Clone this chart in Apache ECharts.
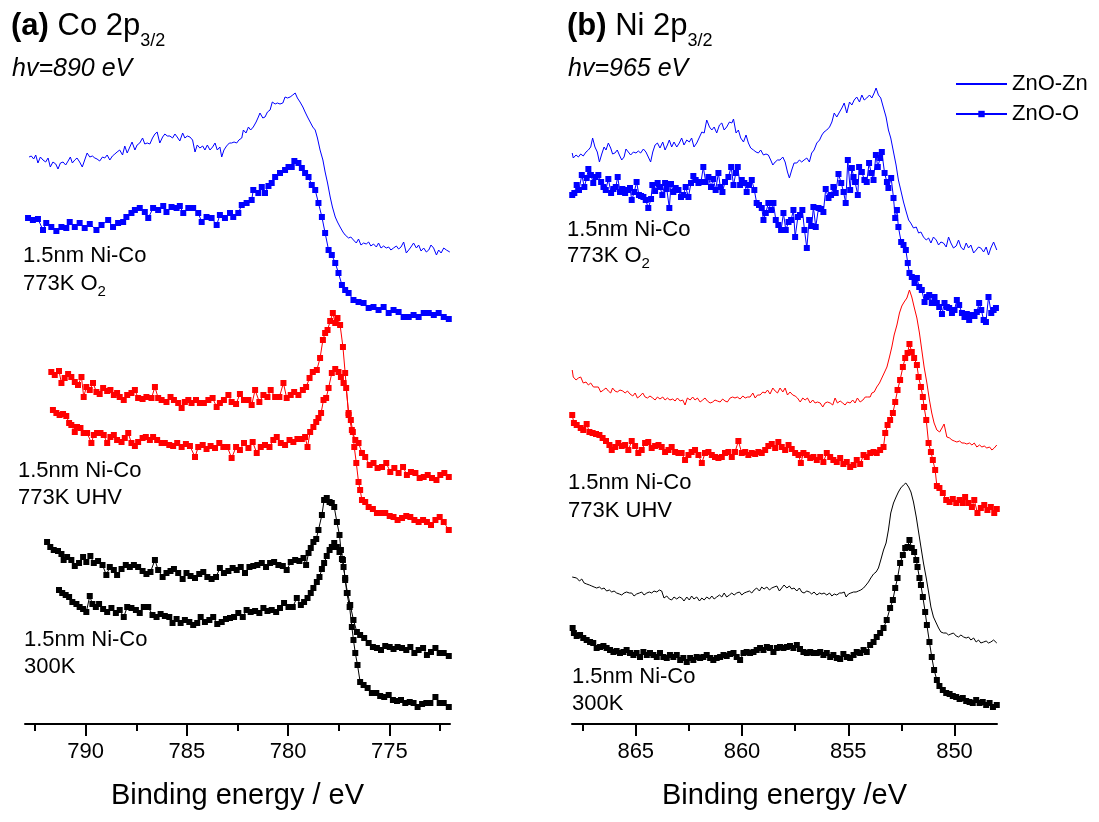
<!DOCTYPE html>
<html>
<head>
<meta charset="utf-8">
<script src="https://cdn.jsdelivr.net/npm/echarts@6/dist/echarts.min.js"></script>
<style>html,body{margin:0;padding:0;background:#fff}#c{width:1099px;height:822px}</style>
</head>
<body>
<div id="c"></div>
<script>
// ---- Data: [binding energy (eV), intensity (a.u., offset for display)] ----
// Panel (a) Co 2p3/2, hv = 890 eV
const coO2_ZnOZn = [[792.80,56.7],[792.69,56.8],[792.57,56.5],[792.47,56.9],[792.36,56.1],[792.24,56.7],[792.11,56.4],[791.98,56.2],[791.86,56.6],[791.75,55.7],[791.62,56.2],[791.48,56.0],[791.37,55.5],[791.25,56.1],[791.12,56.2],[790.99,55.9],[790.87,56.3],[790.76,56.7],[790.66,56.1],[790.54,56.4],[790.43,56.6],[790.30,56.2],[790.17,55.7],[790.05,56.4],[789.93,57.1],[789.80,56.7],[789.67,56.8],[789.55,56.6],[789.44,56.5],[789.31,56.3],[789.17,56.7],[789.06,56.6],[788.94,56.9],[788.81,56.4],[788.68,56.8],[788.56,57.0],[788.45,57.2],[788.32,57.4],[788.18,56.9],[788.07,57.8],[787.95,57.1],[787.82,57.7],[787.71,58.2],[787.57,57.4],[787.46,57.9],[787.33,58.1],[787.19,58.6],[787.08,58.0],[786.96,58.1],[786.83,58.0],[786.70,58.6],[786.58,59.0],[786.47,59.2],[786.34,58.1],[786.20,58.7],[786.09,59.0],[785.97,58.8],[785.84,58.8],[785.71,58.6],[785.59,59.0],[785.48,58.7],[785.35,58.3],[785.21,59.1],[785.10,58.6],[784.98,58.8],[784.85,58.7],[784.72,58.4],[784.60,57.2],[784.49,57.9],[784.36,57.6],[784.22,57.8],[784.11,57.4],[783.99,57.9],[783.86,57.4],[783.73,57.7],[783.61,58.1],[783.50,57.4],[783.37,57.7],[783.28,56.7],[783.17,57.4],[783.04,57.8],[782.90,58.1],[782.79,58.1],[782.67,58.2],[782.54,58.1],[782.43,58.4],[782.29,58.6],[782.21,59.4],[782.08,59.1],[781.96,59.7],[781.85,59.4],[781.72,59.7],[781.58,60.2],[781.47,60.7],[781.39,61.1],[781.25,60.6],[781.14,60.7],[781.02,61.2],[780.89,61.4],[780.78,62.2],[780.64,62.0],[780.53,62.1],[780.40,62.0],[780.26,62.1],[780.15,62.7],[780.03,62.6],[779.90,62.7],[779.77,62.9],[779.65,63.1],[779.54,62.6],[779.41,62.2],[779.27,61.7],[779.16,61.2],[779.04,60.7],[778.91,60.2],[778.78,59.7],[778.66,59.4],[778.55,58.6],[778.42,57.4],[778.28,56.4],[778.17,55.2],[778.05,54.1],[777.92,52.7],[777.81,51.7],[777.67,50.7],[777.56,50.2],[777.43,49.7],[777.29,49.2],[777.18,48.9],[777.01,48.6],[776.90,48.7],[776.77,48.4],[776.63,48.1],[776.52,48.5],[776.40,47.9],[776.27,48.1],[776.14,48.0],[776.02,48.2],[775.91,47.8],[775.78,48.0],[775.64,47.7],[775.53,48.1],[775.41,47.6],[775.28,47.8],[775.15,47.6],[775.03,47.7],[774.92,47.4],[774.79,47.6],[774.65,47.8],[774.54,47.5],[774.42,47.7],[774.29,48.2],[774.16,47.1],[774.04,47.4],[773.93,47.7],[773.80,48.1],[773.66,47.6],[773.55,47.9],[773.43,47.3],[773.30,47.6],[773.17,47.2],[773.05,47.4],[772.94,47.9],[772.81,47.6],[772.67,46.9],[772.56,47.4],[772.44,47.1],[772.31,47.6],[772.18,47.4],[772.01,47.2]];
const coO2_ZnOO = [[792.85,50.6],[792.61,50.4],[792.36,50.5],[792.11,49.4],[791.95,50.1],[791.70,49.7],[791.45,49.3],[791.20,49.7],[790.96,49.6],[790.79,50.2],[790.54,49.7],[790.30,50.1],[790.05,49.6],[789.80,50.0],[789.47,49.4],[789.22,49.9],[788.89,50.4],[788.65,49.7],[788.40,50.1],[788.15,50.2],[787.99,50.7],[787.74,51.1],[787.57,51.4],[787.33,51.6],[787.08,51.2],[786.91,50.6],[786.67,51.6],[786.42,51.4],[786.17,51.8],[786.01,51.2],[785.76,51.7],[785.51,51.6],[785.35,51.8],[785.18,51.1],[784.93,51.6],[784.69,51.6],[784.44,51.1],[784.27,50.2],[784.03,50.7],[783.78,50.6],[783.53,49.9],[783.37,50.9],[783.12,50.6],[782.87,51.1],[782.71,50.7],[782.46,51.1],[782.29,51.9],[782.05,52.1],[781.80,52.4],[781.72,53.4],[781.47,53.1],[781.30,53.7],[781.14,53.1],[780.97,53.8],[780.81,54.1],[780.64,54.7],[780.40,55.1],[780.15,55.4],[779.98,55.7],[779.82,55.7],[779.69,56.3],[779.49,56.1],[779.32,55.6],[779.16,55.1],[778.99,54.7],[778.83,53.9],[778.66,53.4],[778.50,52.1],[778.33,50.7],[778.17,49.1],[778.00,47.4],[777.84,46.9],[777.67,46.1],[777.51,45.1],[777.34,43.9],[777.18,43.4],[777.01,43.1],[776.77,42.4],[776.52,42.2],[776.27,42.1],[776.02,41.6],[775.78,41.7],[775.53,41.4],[775.28,41.7],[775.03,41.1],[774.79,41.4],[774.54,41.2],[774.29,40.7],[774.04,40.7],[773.80,40.9],[773.55,40.7],[773.30,41.1],[773.05,41.1],[772.80,40.9],[772.56,41.1],[772.31,40.7],[772.06,40.5]];
const coUHV_ZnOZn = [[791.70,35.2],[791.53,34.9],[791.32,35.3],[791.20,34.1],[791.04,34.6],[790.87,35.0],[790.71,34.7],[790.54,34.2],[790.38,33.9],[790.21,34.7],[790.10,32.7],[789.97,33.7],[789.80,33.4],[789.64,34.1],[789.47,33.2],[789.31,33.0],[789.14,33.6],[788.94,33.3],[788.78,33.4],[788.61,32.9],[788.45,33.1],[788.32,32.7],[788.12,32.4],[787.95,32.9],[787.74,33.1],[787.57,33.4],[787.41,32.6],[787.19,32.5],[787.00,32.7],[786.75,32.6],[786.58,33.7],[786.42,32.6],[786.25,32.4],[786.01,32.2],[785.81,32.7],[785.64,32.4],[785.43,32.1],[785.26,31.6],[785.10,32.2],[784.93,32.4],[784.77,32.1],[784.55,32.4],[784.36,32.1],[784.16,32.1],[783.94,32.4],[783.73,32.6],[783.53,31.7],[783.37,32.1],[783.17,32.4],[782.95,32.9],[782.79,32.2],[782.57,32.0],[782.38,33.0],[782.18,32.4],[781.96,32.4],[781.80,31.9],[781.63,33.4],[781.42,32.2],[781.22,32.9],[781.02,32.7],[780.86,33.4],[780.64,32.7],[780.43,32.7],[780.23,34.1],[780.07,32.6],[779.87,32.9],[779.70,33.2],[779.49,32.9],[779.27,33.4],[779.11,33.7],[778.94,34.6],[778.78,35.2],[778.58,35.4],[778.42,36.6],[778.28,38.4],[778.17,39.1],[778.05,39.4],[777.92,40.3],[777.79,41.1],[777.67,40.1],[777.56,40.6],[777.43,39.9],[777.29,37.7],[777.18,35.1],[777.01,30.9],[776.85,29.4],[776.68,28.4],[776.52,28.1],[776.35,27.1],[776.19,26.7],[775.97,25.9],[775.78,26.1],[775.58,25.6],[775.36,25.7],[775.15,26.1],[774.95,25.2],[774.75,25.6],[774.54,25.1],[774.32,25.7],[774.13,24.9],[773.93,25.2],[773.71,25.1],[773.50,24.6],[773.30,24.7],[773.10,24.9],[772.89,24.6],[772.67,24.4],[772.48,24.9],[772.28,25.1],[772.06,24.7]];
const coUHV_ZnOO = [[791.62,31.4],[791.45,31.1],[791.29,30.9],[791.12,31.0],[790.96,30.8],[790.82,30.1],[790.71,29.9],[790.54,29.2],[790.43,29.7],[790.26,29.6],[790.10,29.1],[789.93,29.1],[789.72,28.1],[789.60,28.9],[789.44,29.1],[789.27,29.1],[789.11,28.9],[788.94,28.1],[788.78,28.7],[788.61,28.9],[788.45,28.4],[788.23,28.2],[788.07,28.6],[787.90,29.1],[787.74,28.1],[787.57,27.8],[787.41,28.2],[787.19,28.6],[787.03,28.7],[786.83,28.4],[786.67,28.7],[786.47,28.4],[786.25,28.1],[786.09,28.1],[785.87,27.9],[785.68,27.8],[785.48,28.1],[785.26,27.7],[785.05,28.0],[784.85,27.8],[784.60,26.7],[784.44,27.7],[784.22,27.9],[784.03,27.5],[783.83,27.8],[783.61,27.6],[783.40,28.1],[783.20,27.7],[783.00,27.7],[782.79,26.6],[782.57,27.7],[782.38,27.4],[782.18,28.1],[781.96,27.6],[781.75,28.2],[781.55,27.1],[781.35,27.7],[781.14,27.9],[780.92,27.7],[780.73,28.4],[780.56,28.7],[780.36,28.1],[780.15,27.9],[779.93,28.4],[779.74,28.2],[779.54,28.5],[779.32,28.5],[779.16,28.7],[779.04,27.7],[778.91,29.2],[778.75,29.7],[778.61,30.2],[778.50,30.6],[778.37,31.1],[778.25,32.4],[778.12,32.6],[778.00,33.6],[777.84,35.1],[777.67,35.5],[777.51,35.2],[777.39,34.7],[777.26,34.1],[777.13,33.6],[777.01,31.1],[776.90,30.4],[776.80,29.2],[776.73,27.7],[776.63,26.1],[776.52,24.2],[776.44,23.4],[776.35,22.4],[776.19,22.2],[776.02,21.7],[775.81,21.5],[775.61,21.1],[775.41,21.1],[775.20,21.1],[774.98,20.8],[774.79,20.7],[774.59,20.4],[774.37,20.6],[774.16,20.8],[773.96,20.7],[773.76,20.4],[773.55,20.2],[773.33,20.4],[773.14,20.2],[772.94,19.9],[772.72,20.4],[772.51,20.7],[772.31,20.2],[772.06,19.4]];
const co300_ZnOZn = [[791.91,18.2],[791.75,17.7],[791.58,17.4],[791.37,17.3],[791.20,17.0],[791.09,16.4],[790.92,16.7],[790.71,16.4],[790.54,15.8],[790.33,16.1],[790.13,16.7],[789.97,16.2],[789.77,16.8],[789.60,16.1],[789.39,16.3],[789.17,15.9],[788.98,14.9],[788.81,15.7],[788.61,15.4],[788.45,14.9],[788.23,15.5],[788.02,15.9],[787.82,15.7],[787.62,15.9],[787.41,15.7],[787.19,15.3],[787.00,15.0],[786.80,15.2],[786.58,16.4],[786.42,15.4],[786.20,14.7],[786.01,15.1],[785.81,15.3],[785.64,15.5],[785.43,15.1],[785.21,14.5],[785.02,15.1],[784.82,14.8],[784.60,14.6],[784.39,15.0],[784.19,15.2],[783.99,14.7],[783.78,14.5],[783.56,14.7],[783.37,15.6],[783.17,15.1],[782.95,15.3],[782.74,15.6],[782.54,15.4],[782.34,15.7],[782.13,15.1],[781.91,15.7],[781.72,15.8],[781.52,15.9],[781.30,16.1],[781.09,15.7],[780.89,16.1],[780.69,16.2],[780.48,15.9],[780.26,15.8],[780.07,15.4],[779.87,16.2],[779.65,16.4],[779.44,16.3],[779.24,16.6],[779.11,15.9],[778.99,17.1],[778.88,17.6],[778.75,18.2],[778.61,18.5],[778.50,19.4],[778.33,20.9],[778.22,22.4],[778.09,22.6],[777.95,22.2],[777.84,22.1],[777.72,21.7],[777.59,20.2],[777.46,18.9],[777.39,17.4],[777.29,16.4],[777.18,14.4],[777.06,13.1],[776.93,11.9],[776.77,10.4],[776.60,9.2],[776.44,8.9],[776.24,8.6],[776.02,8.1],[775.81,7.7],[775.61,7.6],[775.41,7.4],[775.20,7.8],[774.98,7.7],[774.79,7.5],[774.59,7.7],[774.37,7.6],[774.16,7.4],[773.96,7.7],[773.76,7.1],[773.55,7.4],[773.33,7.6],[773.14,6.9],[772.94,7.2],[772.72,7.6],[772.51,7.1],[772.31,7.1],[772.06,6.8]];
const co300_ZnOO = [[791.32,13.4],[791.16,13.1],[790.99,12.9],[790.82,12.7],[790.66,12.2],[790.46,12.0],[790.30,11.7],[790.13,11.5],[789.97,11.2],[789.80,12.8],[789.67,12.0],[789.50,11.7],[789.34,12.0],[789.14,11.5],[788.94,11.2],[788.73,11.6],[788.51,11.1],[788.32,11.4],[788.12,10.7],[787.95,11.7],[787.74,11.6],[787.52,11.4],[787.33,11.1],[787.13,11.7],[786.91,11.7],[786.70,10.9],[786.50,10.7],[786.30,11.0],[786.09,10.8],[785.87,10.7],[785.71,10.1],[785.51,10.5],[785.31,10.1],[785.10,10.4],[784.88,10.2],[784.69,9.9],[784.49,10.1],[784.32,10.7],[784.11,10.2],[783.89,10.4],[783.70,10.7],[783.50,10.0],[783.28,10.2],[783.07,10.5],[782.87,10.6],[782.67,10.7],[782.46,11.1],[782.24,10.7],[782.05,11.4],[781.85,11.2],[781.63,11.3],[781.42,11.1],[781.22,11.6],[781.02,11.3],[780.81,11.4],[780.59,11.2],[780.40,11.6],[780.20,12.1],[779.98,11.7],[779.77,11.7],[779.57,12.6],[779.37,11.9],[779.21,12.2],[779.04,12.6],[778.88,13.1],[778.75,13.6],[778.58,14.2],[778.45,14.7],[778.33,15.5],[778.22,16.1],[778.09,16.8],[777.95,17.4],[777.84,17.7],[777.72,18.1],[777.59,17.7],[777.46,17.2],[777.34,16.5],[777.26,15.7],[777.18,14.6],[777.10,13.1],[776.96,11.7],[776.85,9.7],[776.77,8.4],[776.68,7.1],[776.57,5.9],[776.44,4.2],[776.27,3.9],[776.07,3.6],[775.86,3.1],[775.64,3.1],[775.45,2.8],[775.25,2.7],[775.03,2.9],[774.82,2.4],[774.62,2.3],[774.42,2.4],[774.21,2.1],[773.99,2.2],[773.80,2.1],[773.60,1.7],[773.38,2.0],[773.17,2.1],[772.97,2.1],[772.72,2.7],[772.51,2.1],[772.31,2.1],[772.06,1.7]];

// Panel (b) Ni 2p3/2, hv = 965 eV
const niO2_ZnOZn = [[867.99,57.1],[867.94,56.6],[867.81,56.9],[867.70,56.7],[867.59,57.0],[867.47,56.8],[867.34,57.2],[867.23,57.4],[867.12,57.7],[867.03,58.6],[866.92,57.7],[866.81,57.2],[866.71,56.2],[866.60,57.0],[866.49,57.7],[866.40,57.4],[866.29,58.1],[866.18,57.6],[866.09,57.0],[865.98,57.1],[865.87,57.4],[865.77,56.9],[865.66,56.4],[865.55,56.7],[865.46,57.5],[865.35,57.2],[865.24,56.9],[865.11,57.2],[864.99,57.1],[864.88,57.3],[864.77,57.1],[864.64,57.5],[864.52,57.2],[864.41,56.7],[864.30,56.2],[864.20,57.2],[864.09,57.9],[863.98,58.1],[863.86,57.6],[863.73,58.2],[863.62,57.4],[863.51,57.9],[863.42,58.4],[863.31,57.7],[863.20,58.2],[863.07,57.7],[862.95,58.1],[862.84,58.6],[862.73,57.9],[862.60,58.4],[862.48,58.2],[862.37,58.6],[862.26,57.7],[862.13,58.1],[862.00,58.7],[861.89,59.2],[861.78,59.1],[861.66,60.4],[861.53,59.7],[861.42,59.4],[861.31,59.7],[861.19,59.1],[861.06,59.9],[860.95,60.1],[860.84,59.4],[860.72,59.7],[860.59,60.2],[860.48,60.1],[860.40,60.5],[860.28,59.1],[860.17,59.4],[860.06,58.6],[859.93,58.2],[859.81,58.9],[859.70,58.1],[859.59,57.6],[859.46,57.4],[859.34,57.2],[859.23,57.1],[859.12,57.4],[858.99,56.9],[858.87,57.0],[858.76,56.9],[858.65,56.4],[858.55,55.9],[858.44,56.2],[858.33,56.4],[858.21,56.4],[858.08,56.7],[857.97,56.2],[857.86,55.2],[857.77,54.6],[857.66,55.4],[857.55,56.1],[857.42,56.1],[857.30,56.4],[857.19,56.2],[857.08,56.4],[856.95,56.6],[856.83,56.2],[856.72,57.1],[856.61,57.4],[856.48,58.1],[856.35,58.4],[856.24,58.9],[856.14,59.2],[856.01,59.4],[855.88,59.7],[855.77,60.2],[855.66,61.1],[855.54,60.7],[855.41,61.2],[855.30,61.6],[855.19,62.1],[855.07,61.1],[854.94,62.2],[854.83,61.9],[854.72,62.4],[854.60,62.7],[854.47,62.2],[854.36,62.9],[854.25,62.4],[854.13,62.6],[854.00,62.9],[853.89,62.6],[853.78,63.1],[853.69,63.6],[853.58,62.9],[853.47,62.6],[853.34,61.6],[853.22,60.7],[853.11,59.4],[853.00,58.6],[852.87,57.2],[852.75,55.9],[852.64,54.4],[852.53,53.4],[852.40,52.2],[852.27,51.2],[852.16,50.4],[852.06,50.1],[851.93,49.6],[851.80,49.7],[851.69,49.1],[851.58,49.2],[851.46,48.7],[851.33,48.4],[851.22,48.6],[851.11,48.1],[850.99,48.7],[850.86,48.4],[850.75,47.9],[850.64,48.2],[850.52,48.1],[850.39,47.7],[850.28,48.7],[850.17,48.1],[850.05,47.6],[849.92,47.8],[849.81,48.4],[849.70,47.7],[849.57,47.4],[849.45,48.1],[849.34,47.6],[849.23,47.9],[849.10,47.1],[848.98,47.4],[848.87,47.7],[848.76,47.6],[848.63,47.2],[848.51,47.7],[848.40,46.9],[848.29,47.6],[848.16,48.2],[848.01,47.4]];
const niO2_ZnOO = [[867.99,52.9],[867.89,53.1],[867.78,53.9],[867.67,53.4],[867.54,54.9],[867.42,53.7],[867.31,54.6],[867.23,55.5],[867.11,54.9],[867.00,54.1],[866.89,54.7],[866.76,54.9],[866.63,54.2],[866.52,53.7],[866.41,53.4],[866.29,54.5],[866.16,53.1],[866.05,53.5],[865.94,53.7],[865.85,54.7],[865.74,53.2],[865.63,53.5],[865.50,53.1],[865.38,53.4],[865.27,53.6],[865.19,52.4],[865.07,53.2],[864.96,54.2],[864.85,52.9],[864.75,52.8],[864.64,52.7],[864.53,52.4],[864.41,51.6],[864.28,52.5],[864.22,53.9],[864.09,53.3],[863.97,54.1],[863.86,53.7],[863.75,52.9],[863.62,54.1],[863.54,53.5],[863.42,51.6],[863.34,54.0],[863.23,53.2],[863.12,53.6],[862.99,53.4],[862.87,52.7],[862.76,52.9],[862.65,53.7],[862.52,52.7],[862.40,54.1],[862.29,54.8],[862.18,54.4],[862.05,54.1],[861.93,54.2],[861.82,55.7],[861.71,54.2],[861.58,54.7],[861.46,53.7],[861.35,54.5],[861.24,53.4],[861.11,55.1],[861.02,53.7],[860.92,53.2],[860.80,54.2],[860.64,54.7],[860.51,55.7],[860.40,53.9],[860.29,55.1],[860.20,55.7],[860.09,53.9],[860.01,54.4],[859.89,54.1],[859.78,53.2],[859.67,53.9],[859.54,54.4],[859.42,53.4],[859.31,52.1],[859.20,51.9],[859.07,51.6],[858.99,50.4],[858.88,51.1],[858.76,52.1],[858.63,51.4],[858.52,52.1],[858.41,50.4],[858.29,49.9],[858.16,49.4],[858.05,51.1],[857.94,49.4],[857.81,50.2],[857.69,50.4],[857.58,51.4],[857.50,48.7],[857.37,50.7],[857.27,50.9],[857.16,51.4],[857.06,49.4],[856.95,47.6],[856.84,50.4],[856.72,49.8],[856.64,51.7],[856.53,49.7],[856.40,51.6],[856.28,51.5],[856.17,51.2],[856.06,53.5],[855.93,52.6],[855.81,52.9],[855.70,53.7],[855.59,53.1],[855.46,55.0],[855.33,54.1],[855.22,53.2],[855.12,52.1],[855.02,56.4],[854.91,53.4],[854.83,55.6],[854.75,54.7],[854.68,54.2],[854.55,52.9],[854.49,55.7],[854.36,55.2],[854.24,54.4],[854.13,54.2],[854.02,56.1],[853.92,55.1],[853.81,54.4],[853.70,56.9],[853.61,55.7],[853.50,56.6],[853.42,57.2],[853.29,55.1],[853.18,54.2],[853.11,53.6],[852.98,54.6],[852.87,52.6],[852.79,50.6],[852.71,51.4],[852.64,49.7],[852.51,48.2],[852.40,47.9],[852.29,47.4],[852.20,46.1],[852.12,45.1],[852.01,44.7],[851.88,44.1],[851.77,44.6],[851.66,43.7],[851.54,43.4],[851.41,42.2],[851.30,42.7],[851.19,42.9],[851.07,42.1],[850.94,42.7],[850.83,42.1],[850.72,41.7],[850.59,41.0],[850.47,42.1],[850.36,41.7],[850.25,41.6],[850.12,41.1],[850.00,41.4],[849.89,42.4],[849.78,41.9],[849.65,41.1],[849.53,40.7],[849.42,41.0],[849.31,40.4],[849.18,40.9],[849.06,40.8],[848.95,41.2],[848.84,42.1],[848.74,41.4],[848.63,40.4],[848.52,40.2],[848.40,42.7],[848.27,41.1],[848.16,41.4],[848.05,41.6]];
const niUHV_ZnOZn = [[867.99,35.4],[867.94,34.7],[867.81,34.4],[867.70,34.6],[867.59,34.7],[867.47,34.1],[867.34,34.2],[867.23,33.9],[867.12,34.1],[866.99,33.7],[866.87,33.7],[866.76,33.7],[866.65,33.2],[866.52,33.4],[866.40,33.6],[866.29,33.3],[866.18,33.1],[866.09,33.6],[865.98,33.3],[865.87,33.2],[865.74,33.4],[865.61,33.3],[865.50,33.1],[865.39,33.3],[865.27,33.0],[865.14,32.8],[865.03,33.1],[864.92,32.6],[864.80,32.8],[864.67,33.1],[864.56,32.7],[864.45,32.6],[864.33,32.8],[864.20,32.6],[864.09,32.4],[863.98,32.7],[863.86,32.5],[863.73,32.7],[863.62,32.4],[863.51,32.6],[863.39,32.4],[863.26,32.5],[863.15,32.3],[863.04,32.6],[862.91,32.3],[862.79,32.4],[862.68,31.9],[862.57,32.6],[862.44,32.4],[862.32,32.7],[862.21,32.4],[862.10,32.6],[861.97,32.2],[861.85,32.4],[861.74,32.6],[861.63,32.3],[861.50,32.1],[861.38,32.2],[861.27,32.4],[861.16,32.3],[861.03,32.2],[860.91,32.5],[860.80,32.3],[860.69,32.2],[860.56,32.6],[860.44,32.7],[860.33,32.6],[860.22,32.7],[860.09,32.5],[859.96,32.8],[859.85,32.6],[859.74,32.7],[859.62,32.7],[859.49,33.1],[859.38,32.6],[859.27,32.9],[859.15,32.9],[859.02,33.2],[858.91,33.1],[858.80,33.4],[858.68,33.0],[858.55,33.6],[858.44,33.3],[858.33,33.1],[858.21,33.6],[858.08,33.2],[857.97,33.6],[857.86,32.9],[857.74,33.2],[857.61,32.9],[857.50,32.8],[857.39,32.6],[857.26,32.2],[857.14,32.6],[857.03,32.4],[856.92,32.6],[856.79,32.1],[856.67,32.4],[856.56,32.1],[856.45,32.2],[856.32,32.1],[856.20,31.7],[856.09,32.1],[855.98,32.2],[855.85,32.1],[855.73,31.9],[855.62,32.6],[855.51,32.1],[855.38,32.3],[855.26,32.1],[855.15,31.9],[855.04,32.2],[854.91,32.1],[854.79,32.4],[854.68,32.1],[854.57,32.6],[854.44,32.2],[854.31,32.4],[854.20,32.7],[854.09,32.7],[853.97,32.7],[853.89,33.1],[853.78,33.2],[853.66,33.7],[853.53,34.1],[853.42,34.6],[853.31,35.1],[853.18,35.7],[853.06,36.7],[852.95,37.7],[852.84,38.9],[852.71,39.9],[852.59,41.1],[852.48,41.8],[852.37,42.2],[852.24,42.6],[852.12,43.4],[852.01,42.7],[851.90,41.7],[851.77,40.6],[851.65,39.1],[851.54,37.4],[851.43,35.7],[851.30,34.1],[851.18,32.4],[851.07,31.1],[850.96,30.1],[850.83,29.4],[850.70,29.2],[850.59,29.6],[850.49,30.0],[850.36,28.7],[850.23,28.6],[850.12,28.4],[850.01,28.3],[849.89,28.2],[849.76,28.3],[849.65,28.1],[849.54,28.1],[849.42,28.0],[849.29,28.1],[849.18,27.9],[849.07,28.1],[848.95,27.7],[848.82,27.9],[848.71,27.7],[848.60,27.8],[848.48,27.6],[848.35,27.7],[848.24,27.4],[848.13,27.6],[848.01,27.9]];
const niUHV_ZnOO = [[867.99,30.9],[867.91,30.1],[867.78,29.9],[867.59,29.6],[867.47,29.4],[867.31,30.0],[867.18,29.2],[867.03,29.1],[866.87,29.0],[866.71,28.9],[866.56,28.6],[866.40,28.3],[866.24,27.9],[866.13,27.4],[865.97,27.7],[865.82,28.1],[865.66,27.8],[865.50,27.9],[865.35,27.4],[865.19,28.3],[865.03,27.8],[864.88,27.1],[864.72,27.4],[864.56,28.1],[864.41,28.2],[864.25,27.6],[864.09,27.8],[863.93,27.9],[863.78,27.7],[863.62,27.2],[863.46,27.4],[863.31,27.7],[863.15,27.2],[862.99,27.1],[862.84,27.1],[862.68,26.4],[862.52,26.9],[862.37,27.2],[862.21,27.4],[862.05,26.9],[861.89,26.1],[861.74,27.1],[861.58,27.2],[861.42,26.9],[861.27,26.7],[861.11,26.6],[860.95,26.7],[860.80,27.1],[860.64,27.2],[860.48,26.7],[860.33,27.2],[860.17,28.3],[860.01,27.1],[859.85,27.2],[859.70,26.9],[859.54,27.1],[859.38,27.0],[859.23,27.2],[859.07,27.1],[858.91,27.4],[858.76,27.8],[858.60,28.0],[858.44,27.6],[858.29,28.2],[858.13,27.7],[857.97,27.4],[857.81,27.9],[857.66,27.5],[857.50,27.1],[857.34,26.9],[857.23,26.1],[857.11,27.1],[856.95,26.9],[856.79,26.6],[856.64,26.7],[856.48,26.4],[856.32,26.7],[856.17,26.2],[856.01,27.1],[855.85,26.7],[855.70,26.4],[855.54,26.2],[855.38,26.6],[855.23,26.0],[855.07,26.2],[854.91,25.7],[854.75,25.9],[854.60,26.4],[854.44,26.0],[854.28,26.9],[854.13,26.7],[853.97,27.1],[853.81,27.2],[853.66,27.1],[853.50,27.4],[853.34,27.7],[853.26,29.1],[853.15,29.9],[853.03,30.4],[852.90,31.1],[852.79,32.2],[852.68,33.4],[852.56,34.4],[852.43,35.7],[852.32,36.6],[852.21,37.1],[852.12,38.0],[852.01,37.2],[851.90,36.6],[851.77,35.9],[851.69,34.7],[851.58,33.7],[851.49,32.7],[851.43,31.7],[851.33,30.4],[851.22,28.1],[851.11,27.2],[851.02,26.4],[850.91,25.4],[850.83,23.8],[850.71,23.6],[850.55,23.1],[850.39,22.4],[850.23,22.2],[850.08,22.5],[849.92,22.1],[849.76,22.4],[849.61,22.1],[849.50,22.7],[849.34,22.1],[849.18,21.7],[849.07,22.4],[848.92,21.1],[848.76,21.6],[848.60,21.9],[848.45,21.4],[848.29,21.7],[848.13,21.1],[848.01,21.5]];
const ni300_ZnOZn = [[867.99,14.7],[867.91,14.7],[867.78,14.6],[867.65,14.3],[867.54,14.5],[867.43,14.1],[867.31,14.0],[867.18,13.9],[867.07,13.8],[866.96,13.7],[866.84,13.6],[866.71,13.7],[866.60,13.5],[866.49,13.6],[866.37,13.3],[866.24,13.4],[866.13,13.2],[866.02,13.3],[865.90,13.1],[865.77,13.0],[865.66,12.9],[865.55,13.1],[865.43,13.2],[865.30,13.1],[865.19,13.1],[865.08,12.8],[864.96,13.0],[864.83,13.1],[864.72,13.2],[864.61,12.9],[864.48,13.1],[864.36,13.2],[864.25,13.1],[864.14,13.3],[864.01,13.2],[863.89,13.4],[863.78,13.3],[863.67,12.6],[863.54,12.8],[863.42,12.5],[863.31,12.4],[863.20,12.7],[863.07,12.5],[862.95,12.7],[862.84,12.6],[862.73,12.3],[862.60,12.7],[862.48,12.4],[862.37,12.8],[862.26,12.5],[862.13,12.7],[862.00,12.3],[861.89,12.6],[861.78,12.4],[861.66,12.7],[861.53,12.5],[861.42,12.8],[861.31,12.5],[861.19,12.7],[861.06,12.9],[860.95,12.7],[860.84,13.1],[860.72,12.7],[860.59,12.9],[860.48,13.1],[860.37,12.9],[860.25,13.1],[860.12,13.2],[860.01,12.9],[859.90,13.1],[859.78,13.2],[859.65,13.3],[859.54,13.1],[859.43,13.4],[859.31,13.6],[859.18,13.3],[859.07,13.7],[858.96,13.5],[858.83,13.7],[858.71,13.4],[858.60,13.6],[858.49,13.7],[858.36,13.8],[858.24,13.3],[858.13,13.6],[858.02,13.9],[857.89,13.6],[857.77,13.8],[857.66,13.5],[857.55,13.6],[857.42,13.3],[857.30,13.6],[857.19,13.2],[857.08,13.1],[856.95,13.3],[856.83,13.2],[856.72,13.0],[856.61,13.2],[856.48,12.9],[856.35,13.1],[856.24,13.0],[856.14,13.1],[856.01,12.9],[855.88,13.1],[855.77,12.8],[855.66,13.0],[855.54,12.9],[855.41,13.1],[855.30,13.1],[855.19,13.2],[855.10,12.7],[854.99,13.0],[854.88,13.1],[854.75,13.2],[854.63,13.2],[854.52,13.3],[854.41,13.4],[854.28,13.6],[854.16,13.9],[854.05,14.2],[853.94,14.6],[853.81,15.0],[853.69,15.2],[853.58,15.6],[853.47,16.4],[853.34,17.4],[853.22,18.1],[853.11,19.4],[853.00,21.1],[852.87,22.1],[852.75,22.7],[852.64,23.2],[852.53,23.6],[852.40,23.9],[852.29,24.1],[852.16,23.7],[852.05,23.2],[851.93,22.2],[851.80,20.7],[851.69,19.2],[851.58,17.7],[851.46,16.1],[851.33,14.6],[851.22,13.2],[851.11,11.7],[850.99,10.7],[850.86,10.1],[850.75,9.6],[850.64,9.2],[850.52,9.1],[850.39,9.1],[850.28,8.9],[850.17,9.0],[850.05,9.1],[849.92,8.8],[849.81,8.7],[849.70,8.9],[849.57,8.7],[849.45,8.6],[849.34,8.7],[849.23,8.4],[849.10,8.6],[848.98,8.2],[848.87,8.4],[848.76,8.1],[848.63,8.2],[848.51,8.3],[848.40,8.1],[848.29,8.2],[848.16,8.4],[848.01,8.1]];
const ni300_ZnOO = [[867.97,9.6],[867.91,9.1],[867.78,8.8],[867.62,8.9],[867.47,8.6],[867.31,8.4],[867.15,8.2],[867.00,8.1],[866.84,7.6],[866.68,7.7],[866.52,7.8],[866.37,7.6],[866.21,7.4],[866.05,7.2],[865.90,7.3],[865.74,7.1],[865.58,7.2],[865.43,7.4],[865.27,7.1],[865.11,6.9],[864.96,7.1],[864.80,6.7],[864.64,7.2],[864.48,6.9],[864.33,7.1],[864.17,6.9],[864.01,6.7],[863.86,7.1],[863.70,6.7],[863.54,6.6],[863.39,6.9],[863.23,6.7],[863.07,6.9],[862.91,6.4],[862.76,6.6],[862.60,6.2],[862.44,6.6],[862.29,6.4],[862.13,6.7],[861.97,6.6],[861.82,6.7],[861.66,6.9],[861.50,6.6],[861.35,6.4],[861.19,6.6],[861.03,6.7],[860.87,6.9],[860.72,6.8],[860.56,7.0],[860.40,7.1],[860.25,6.7],[860.09,6.4],[859.93,7.1],[859.78,7.2],[859.62,7.1],[859.46,7.2],[859.31,7.4],[859.15,7.6],[858.99,7.4],[858.83,7.7],[858.68,7.6],[858.52,7.2],[858.36,7.6],[858.21,7.7],[858.05,7.6],[857.89,7.7],[857.74,7.8],[857.58,7.6],[857.42,7.9],[857.27,7.5],[857.11,7.2],[856.95,7.1],[856.79,7.2],[856.64,7.1],[856.48,7.1],[856.32,7.2],[856.17,6.9],[856.01,7.1],[855.85,6.7],[855.70,6.9],[855.54,6.6],[855.38,6.5],[855.23,7.0],[855.07,6.7],[854.91,6.6],[854.75,6.9],[854.60,7.2],[854.44,7.1],[854.28,7.4],[854.13,7.2],[853.97,7.9],[853.81,8.2],[853.66,8.7],[853.50,9.1],[853.34,9.6],[853.19,10.4],[853.03,11.6],[852.90,12.4],[852.79,13.6],[852.68,14.6],[852.56,16.1],[852.43,16.9],[852.32,17.6],[852.21,17.7],[852.12,18.4],[852.01,17.6],[851.90,17.2],[851.80,16.4],[851.74,15.7],[851.65,14.6],[851.58,13.9],[851.49,12.7],[851.38,11.2],[851.30,9.9],[851.18,8.2],[851.07,6.7],[850.96,5.4],[850.83,4.4],[850.71,3.8],[850.55,3.4],[850.39,3.1],[850.23,3.0],[850.08,2.8],[849.92,2.7],[849.76,2.5],[849.61,2.6],[849.45,2.3],[849.29,2.2],[849.14,2.1],[848.98,2.4],[848.82,2.1],[848.67,2.2],[848.51,1.9],[848.35,2.1],[848.19,1.7],[848.01,1.9]];

// Axis ticks
const coMajorTicks = [775, 780, 785, 790];
const coMinorTicks = [772.5, 777.5, 782.5, 787.5, 792.5];
const niMajorTicks = [850, 855, 860, 865];
const niMinorTicks = [852.5, 857.5, 862.5, 867.5];

const FONT = '"Liberation Sans", Arial, Helvetica, sans-serif';
const BLUE = '#0000ff', RED = '#ff0000', BLACK = '#000000';

const mctx = document.createElement('canvas').getContext('2d');
function tw(text, size, weight, style) {
  mctx.font = (style || 'normal') + ' ' + (weight || 'normal') + ' ' + size + 'px ' + FONT;
  return mctx.measureText(text).width;
}
function T(x, y, text, size, extra) {
  return { type: 'text', x: x, y: y, silent: true,
    style: Object.assign({ text: text, fontSize: size, fontFamily: FONT, fill: '#000', verticalAlign: 'middle', align: 'left' }, extra || {}) };
}
function title(x, y, tag, main, sub) {
  const S = 31;
  const w1 = tw(tag, S, 'bold'), w2 = tw(main, S);
  return [T(x, y, tag, S, { fontWeight: 'bold' }), T(x + w1, y, main, S), T(x + w1 + w2, y + 15, sub, 18)];
}
function sampleLabel(x, y1, y2, l1, l2, sub) {
  const S = 22;
  const arr = [T(x, y1, l1, S), T(x, y2, l2, S)];
  if (sub) arr.push(T(x + tw(l2, S), y2 + 8, sub, 15));
  return arr;
}

function mkX(grid, min, max, major, minor, name) {
  return [
    { type: 'value', gridIndex: grid, min: min, max: max, inverse: true, position: 'bottom', offset: 0,
      name: name, nameLocation: 'middle', nameGap: 57,
      nameTextStyle: { fontSize: 29, fontFamily: FONT, color: '#000' },
      axisLine: { show: true, onZero: false, lineStyle: { color: '#000', width: 2 } },
      axisTick: { show: true, length: 12, lineStyle: { color: '#000', width: 2 }, customValues: major },
      axisLabel: { show: true, customValues: major, fontSize: 22, fontFamily: FONT, color: '#000', margin: 17 },
      splitLine: { show: false } },
    { type: 'value', gridIndex: grid, min: min, max: max, inverse: true, position: 'bottom', offset: 0,
      axisLine: { show: false, onZero: false },
      axisTick: { show: true, length: 7, lineStyle: { color: '#000', width: 2 }, customValues: minor },
      axisLabel: { show: false }, splitLine: { show: false } }
  ];
}
function mkY(grid) {
  return { type: 'value', gridIndex: grid, min: 0, max: 70, show: false,
    axisLine: { show: false }, axisTick: { show: false }, axisLabel: { show: false }, splitLine: { show: false } };
}
function lineSeries(name, data, color, xi, yi) {
  return { type: 'line', name: name, data: data, xAxisIndex: xi, yAxisIndex: yi,
    symbol: 'none', showSymbol: false, color: color,
    lineStyle: { color: color, width: 1 }, silent: true };
}
function markSeries(name, data, color, xi, yi) {
  return { type: 'line', name: name, data: data, xAxisIndex: xi, yAxisIndex: yi,
    symbol: 'rect', symbolSize: 6, showSymbol: true, showAllSymbol: true, color: color,
    itemStyle: { color: color }, lineStyle: { color: color, width: 1 }, silent: true };
}

const chart = echarts.init(document.getElementById('c'), null, { renderer: 'canvas' });
chart.setOption({
  animation: false,
  backgroundColor: '#fff',
  grid: [
    { left: 25, width: 425, top: 24, height: 700 },
    { left: 572, width: 425, top: 24, height: 700 }
  ],
  xAxis: [].concat(
    mkX(0, 772, 793, coMajorTicks, coMinorTicks, 'Binding energy / eV'),
    mkX(1, 848, 868, niMajorTicks, niMinorTicks, 'Binding energy /eV')
  ),
  yAxis: [mkY(0), mkY(1)],
  legend: {
    data: [{ name: 'ZnO-Zn', itemStyle: { opacity: 0 } }, 'ZnO-O'],
    orient: 'vertical', left: 955, top: 73, padding: 0,
    itemWidth: 51, itemHeight: 8, itemGap: 8,
    textStyle: { fontSize: 22, fontFamily: FONT, color: '#000' }
  },
  series: [
    lineSeries('ZnO-Zn', coO2_ZnOZn, BLUE, 0, 0),
    markSeries('ZnO-O', coO2_ZnOO, BLUE, 0, 0),
    markSeries('ZnO-Zn', coUHV_ZnOZn, RED, 0, 0),
    markSeries('ZnO-O', coUHV_ZnOO, RED, 0, 0),
    markSeries('ZnO-Zn', co300_ZnOZn, BLACK, 0, 0),
    markSeries('ZnO-O', co300_ZnOO, BLACK, 0, 0),
    lineSeries('ZnO-Zn', niO2_ZnOZn, BLUE, 2, 1),
    markSeries('ZnO-O', niO2_ZnOO, BLUE, 2, 1),
    lineSeries('ZnO-Zn', niUHV_ZnOZn, RED, 2, 1),
    markSeries('ZnO-O', niUHV_ZnOO, RED, 2, 1),
    lineSeries('ZnO-Zn', ni300_ZnOZn, BLACK, 2, 1),
    markSeries('ZnO-O', ni300_ZnOO, BLACK, 2, 1)
  ],
  graphic: [].concat(
    title(11, 26, '(a)', ' Co 2p', '3/2'),
    title(567, 26, '(b)', ' Ni 2p', '3/2'),
    [T(12, 69, 'hv=890 eV', 25, { fontStyle: 'italic' }), T(568, 69, 'hv=965 eV', 25, { fontStyle: 'italic' })],
    sampleLabel(23, 256, 284, '1.5nm Ni-Co', '773K O', '2'),
    sampleLabel(18, 471, 498, '1.5nm Ni-Co', '773K UHV'),
    sampleLabel(24, 640, 667, '1.5nm Ni-Co', '300K'),
    sampleLabel(567, 230, 256, '1.5nm Ni-Co', '773K O', '2'),
    sampleLabel(568, 483, 511, '1.5nm Ni-Co', '773K UHV'),
    sampleLabel(572, 677, 704, '1.5nm Ni-Co', '300K')
  )
});
</script>
</body>
</html>
